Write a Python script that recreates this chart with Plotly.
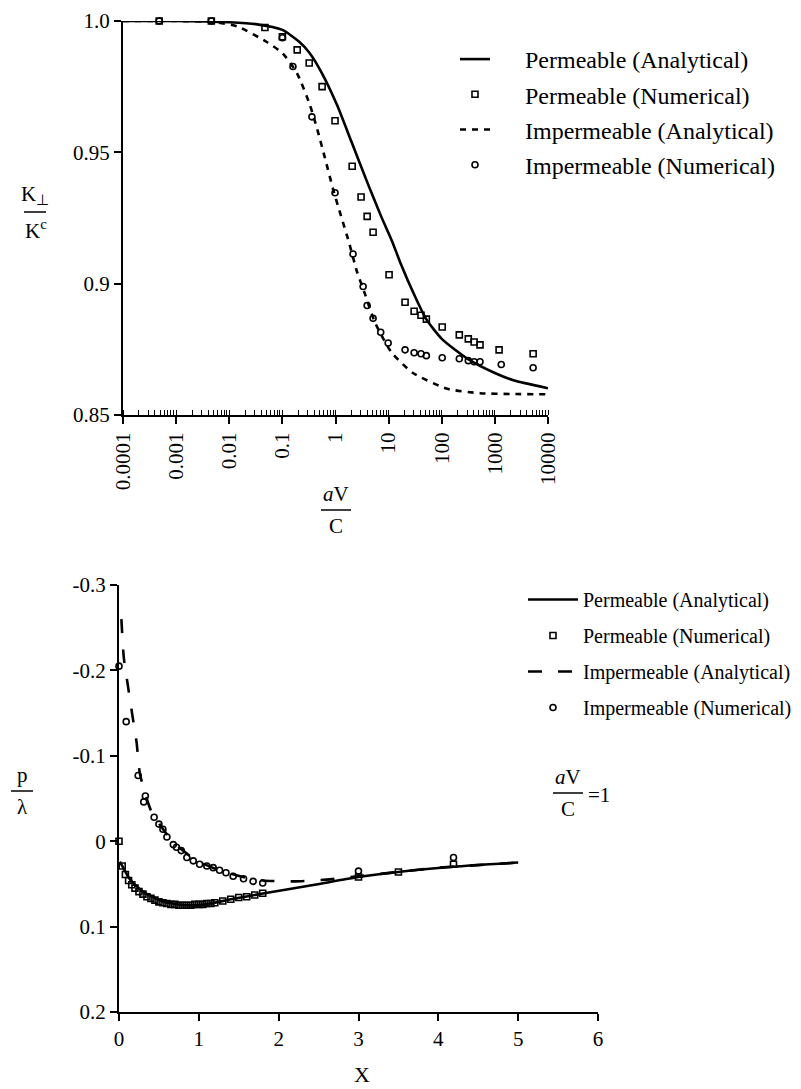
import plotly.graph_objects as go

OFF = 8                      # browser body margin
W, H = 801 - OFF, 1089 - OFF
FONT = "Liberation Serif"

# ---------------- top chart data (aV/C vs K_perp/K^c) ----------------
perm_an_x = [1e-4, 1e-3, 1e-2, 0.0316, 0.1, 0.21, 0.32, 0.56, 1.07, 2.0, 4.07, 7.1, 11.7, 16.6, 31.6, 51, 100, 302, 1000, 2240, 10000]
perm_an_k = [1.0, 1.0, 0.9995, 0.9988, 0.9966, 0.992, 0.988, 0.980, 0.968, 0.954, 0.938, 0.926, 0.916, 0.908, 0.895, 0.8865, 0.879, 0.8715, 0.866, 0.8632, 0.8602]

perm_num_x = [0.00048, 0.0046, 0.047, 0.1, 0.19, 0.32, 0.56, 0.98, 2.06, 3.03, 3.94, 5.1, 10.2, 20.4, 30.2, 40.7, 51.3, 102, 214, 316, 407, 525, 1200, 5250]
perm_num_k = [1.0, 1.0, 0.9975, 0.994, 0.989, 0.984, 0.975, 0.962, 0.9447, 0.933, 0.9256, 0.9196, 0.9034, 0.8929, 0.8895, 0.888, 0.8865, 0.8835, 0.8805, 0.879, 0.8778, 0.8767, 0.8748, 0.8733]

imp_an_x = [1e-4, 1e-3, 0.005, 0.014, 0.051, 0.102, 0.19, 0.33, 0.45, 0.63, 0.9, 1.26, 1.78, 2.5, 3.6, 5.6, 11.2, 28.8, 126, 525, 2000, 10000]
imp_an_k = [1.0, 1.0, 0.9996, 0.998, 0.992, 0.9876, 0.980, 0.968, 0.959, 0.948, 0.936, 0.926, 0.916, 0.905, 0.896, 0.885, 0.874, 0.866, 0.860, 0.8583, 0.858, 0.8579]

imp_num_x = [0.00048, 0.0046, 0.1, 0.158, 0.36, 0.98, 2.14, 3.31, 3.94, 5.1, 7.1, 9.8, 20.4, 30.2, 40.7, 51.3, 102, 214, 316, 407, 525, 1318, 5250]
imp_num_k = [1.0, 1.0, 0.9936, 0.9827, 0.9635, 0.9346, 0.9113, 0.8989, 0.8917, 0.8868, 0.8815, 0.8774, 0.8748, 0.8737, 0.8733, 0.8726, 0.8718, 0.8714, 0.8707, 0.8703, 0.8703, 0.8692, 0.8680]

top_tickvals = [1e-4, 1e-3, 1e-2, 0.1, 1, 10, 100, 1000, 10000]
top_ticktext = ["0.0001", "0.001", "0.01", "0.1", "1", "10", "100", "1000", "10000"]
top_yvals = [0.85, 0.9, 0.95, 1.0]
top_ytext = ["0.85", "0.9", "0.95", "1.0"]

# ---------------- bottom chart data (X vs p/lambda) ----------------
perm_an_X = [0.01, 0.04, 0.14, 0.3, 0.56, 0.83, 1.09, 1.4, 1.82, 2.45, 3.0, 3.5, 4.19, 5.0]
perm_an_p = [0.024, 0.029, 0.045, 0.059, 0.071, 0.075, 0.074, 0.068, 0.061, 0.051, 0.042, 0.036, 0.030, 0.025]

perm_num_X = [0.0, 0.04, 0.08, 0.12, 0.16, 0.2, 0.25, 0.3, 0.35, 0.4, 0.45, 0.5, 0.55, 0.6, 0.65, 0.7, 0.75, 0.8, 0.85, 0.9, 0.95, 1.0, 1.05, 1.1, 1.15, 1.2, 1.3, 1.4, 1.5, 1.6, 1.7, 1.8, 3.0, 3.5, 4.19]
perm_num_p = [0.0, 0.029, 0.039, 0.046, 0.051, 0.055, 0.059, 0.062, 0.065, 0.067, 0.069, 0.071, 0.072, 0.073, 0.074, 0.074, 0.075, 0.075, 0.075, 0.075, 0.074, 0.074, 0.074, 0.073, 0.073, 0.072, 0.070, 0.068, 0.066, 0.065, 0.063, 0.061, 0.042, 0.036, 0.027]

imp_an_X = [0.03, 0.06, 0.11, 0.17, 0.22, 0.26, 0.32, 0.4, 0.5, 0.6, 0.7, 0.8, 0.9, 1.0, 1.2, 1.4, 1.6, 1.8, 2.2, 2.6, 3.0, 3.5, 4.0, 4.5, 5.0]
imp_an_p = [-0.26, -0.215, -0.183, -0.146, -0.116, -0.08, -0.058, -0.036, -0.021, -0.008, 0.003, 0.011, 0.018, 0.024, 0.032, 0.038, 0.043, 0.046, 0.047, 0.045, 0.041, 0.036, 0.031, 0.028, 0.025]

imp_num_X = [0.0, 0.09, 0.24, 0.31, 0.33, 0.44, 0.50, 0.55, 0.60, 0.68, 0.72, 0.78, 0.85, 0.93, 1.01, 1.10, 1.18, 1.26, 1.34, 1.43, 1.56, 1.68, 1.80, 3.0, 4.19]
imp_num_p = [-0.205, -0.140, -0.077, -0.046, -0.053, -0.028, -0.020, -0.014, -0.005, 0.004, 0.007, 0.011, 0.019, 0.023, 0.027, 0.029, 0.031, 0.034, 0.037, 0.041, 0.044, 0.047, 0.049, 0.035, 0.019]

bot_xvals = [0, 1, 2, 3, 4, 5, 6]
bot_yvals = [-0.3, -0.2, -0.1, 0, 0.1, 0.2]
bot_ytext = ["-0.3", "-0.2", "-0.1", "0", "0.1", "0.2"]

names = ["Permeable (Analytical)", "Permeable (Numerical)",
         "Impermeable (Analytical)", "Impermeable (Numerical)"]


def px(x):
    return (x - OFF) / W


def py(y):
    return 1 - (y - OFF) / H


fig = go.Figure()
NB = "\u00a0" * 5

# top traces
fig.add_trace(go.Scatter(x=perm_an_x, y=perm_an_k, mode="lines", name=NB + names[0],
                         line=dict(color="black", width=2.6, shape="spline", smoothing=0.6),
                         xaxis="x", yaxis="y", legend="legend", legendgroup="a"))
fig.add_trace(go.Scatter(x=perm_num_x, y=perm_num_k, mode="markers", name=NB + names[1],
                         marker=dict(symbol="square-open", size=6, color="black", line=dict(width=1.6)),
                         xaxis="x", yaxis="y", legend="legend", legendgroup="b", cliponaxis=False))
fig.add_trace(go.Scatter(x=imp_an_x, y=imp_an_k, mode="lines", name=NB + names[2],
                         line=dict(color="black", width=2.6, dash="6px,6px", shape="spline", smoothing=0.6),
                         xaxis="x", yaxis="y", legend="legend", legendgroup="c"))
fig.add_trace(go.Scatter(x=imp_num_x, y=imp_num_k, mode="markers", name=NB + names[3],
                         marker=dict(symbol="circle-open", size=6, color="black", line=dict(width=1.6)),
                         xaxis="x", yaxis="y", legend="legend", legendgroup="d", cliponaxis=False))

# bottom traces
fig.add_trace(go.Scatter(x=perm_an_X, y=perm_an_p, mode="lines", name=names[0],
                         line=dict(color="black", width=2.6, shape="spline", smoothing=0.6),
                         xaxis="x2", yaxis="y2", legend="legend2", legendgroup="e"))
fig.add_trace(go.Scatter(x=perm_num_X, y=perm_num_p, mode="markers", name=names[1],
                         marker=dict(symbol="square-open", size=6, color="black", line=dict(width=1.6)),
                         xaxis="x2", yaxis="y2", legend="legend2", legendgroup="f", cliponaxis=False))
fig.add_trace(go.Scatter(x=imp_an_X, y=imp_an_p, mode="lines", name=names[2],
                         line=dict(color="black", width=2.6, dash="14px,16px", shape="spline", smoothing=0.6),
                         xaxis="x2", yaxis="y2", legend="legend2", legendgroup="g"))
fig.add_trace(go.Scatter(x=imp_num_X, y=imp_num_p, mode="markers", name=names[3],
                         marker=dict(symbol="circle-open", size=6, color="black", line=dict(width=1.6)),
                         xaxis="x2", yaxis="y2", legend="legend2", legendgroup="h", cliponaxis=False))

axis_common = dict(showgrid=False, zeroline=False, showline=True, linecolor="black", linewidth=2,
                   ticks="outside", tickcolor="black", tickwidth=1.5, ticklen=7, automargin=False,
                   ticklabeloverflow="allow",
                   tickfont=dict(family=FONT, size=21, color="black"))

fig.update_layout(
    width=W, height=H,
    margin=dict(l=0, r=0, t=0, b=0, pad=0),
    paper_bgcolor="white", plot_bgcolor="white",
    font=dict(family=FONT, color="black"),
    xaxis=dict(type="log", domain=[px(123), px(548)], range=[-4, 4], anchor="y",
               tickvals=top_tickvals, ticktext=top_ticktext, tickangle=-90,
               minor=dict(dtick="D1", ticks="inside", ticklen=5, tickcolor="black", tickwidth=1),
               **axis_common),
    yaxis=dict(domain=[py(415), py(21)], range=[0.85, 1.0], anchor="x",
               tickvals=top_yvals, ticktext=top_ytext, **axis_common),
    xaxis2=dict(domain=[px(119), px(598)], range=[0, 6], anchor="y2",
                tickvals=bot_xvals, **axis_common),
    yaxis2=dict(domain=[py(1012), py(585)], range=[0.2, -0.3], anchor="x2",
                tickvals=bot_yvals, ticktext=bot_ytext, **axis_common),
    legend=dict(x=px(455), y=py(37), xanchor="left", yanchor="top", bgcolor="rgba(0,0,0,0)",
                font=dict(family=FONT, size=24, color="black"), itemwidth=30,
                tracegroupgap=1, traceorder="grouped"),
    legend2=dict(x=px(523), y=py(580), xanchor="left", yanchor="top", bgcolor="rgba(0,0,0,0)",
                 font=dict(family=FONT, size=20, color="black"), itemwidth=50,
                 tracegroupgap=7, traceorder="grouped"),
    showlegend=True,
)

ann_font = dict(family=FONT, size=21, color="black")
annotations = [
    # top y title K_perp / K^c
    dict(text="K<sub>⊥</sub>", x=px(35), y=py(210), yanchor="bottom"),
    dict(text="K<sup>c</sup>", x=px(36), y=py(214), yanchor="top"),
    # top x title aV / C
    dict(text="<i>a</i>V", x=px(336), y=py(508), yanchor="bottom"),
    dict(text="C", x=px(336), y=py(512), yanchor="top"),
    # bottom y title p / lambda
    dict(text="p", x=px(22), y=py(789), yanchor="bottom"),
    dict(text="λ", x=px(22), y=py(793), yanchor="top"),
    # aV/C = 1
    dict(text="<i>a</i>V", x=px(568), y=py(791), yanchor="bottom"),
    dict(text="C", x=px(568), y=py(795), yanchor="top"),
    dict(text="=1", x=px(586), y=py(795), xanchor="left", yanchor="middle"),
    # bottom x title
    dict(text="X", x=3.05, xref="x2", y=py(1074), yanchor="middle",
         font=dict(family=FONT, size=22, color="black")),
]
for a in annotations:
    a.setdefault("xref", "paper")
    a.setdefault("yref", "paper")
    a.setdefault("xanchor", "center")
    a.setdefault("showarrow", False)
    a.setdefault("font", ann_font)
fig.update_layout(annotations=annotations)

bars = [(24, 46, 212), (321, 351, 510), (11, 33, 791), (553, 583, 793)]
for x0, x1, yy in bars:
    fig.add_shape(type="line", xref="paper", yref="paper", x0=px(x0), x1=px(x1), y0=py(yy), y1=py(yy),
                  line=dict(color="black", width=1.5))

fig.write_html("out.html")
